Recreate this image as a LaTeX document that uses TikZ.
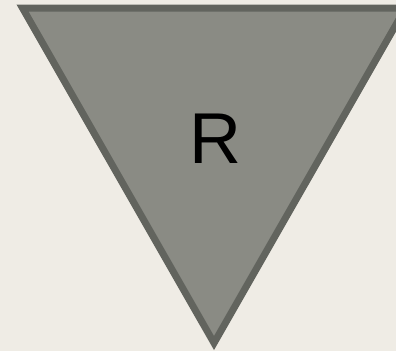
\documentclass[tikz,border=0pt]{standalone}
\usepackage{fontspec}
\setsansfont{Liberation Sans}
\definecolor{paper}{RGB}{239, 236, 229}
\definecolor{stonefill}{RGB}{138, 139, 132}
\definecolor{stoneline}{RGB}{98, 100, 94}
\usetikzlibrary{positioning}
\tikzset{
	wedge/.style={draw=stoneline, fill=stonefill, line width=7pt, line join=miter},
	wedgelabel/.style={font=\sffamily\fontsize{72}{72}\selectfont, text=black, inner sep=0pt},
}

\begin{document}
\begin{tikzpicture}[x=1pt, y=1pt]
		\fill[paper] (0,0) rectangle (396,-351);
		\useasboundingbox (0,0) rectangle (396,-351);
		\coordinate (tl) at (22.5,-8);
		\coordinate (tr) at (405.5,-8);
		\coordinate (bt) at (214,-343);
		\draw[wedge] (tl) -- (tr) -- (bt) -- cycle;
		\node[wedgelabel] (rlabel) at (215,-139) {R};
	\end{tikzpicture}
\end{document}
